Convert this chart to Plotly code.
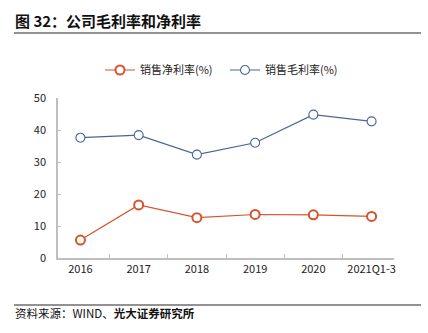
import plotly.graph_objects as go

categories = ["2016", "2017", "2018", "2019", "2020", "2021Q1-3"]
net_margin = [5.6, 16.6, 12.6, 13.6, 13.5, 13.0]
gross_margin = [37.6, 38.4, 32.3, 36.0, 44.8, 42.7]
y_ticks = [0, 10, 20, 30, 40, 50]

FONT = "Noto Sans CJK SC"
net_color = "#D5532F"
gross_color = "#4A6496"

# plot area geometry (px)
L, R, T, B = 58, 394, 98, 258
PW, PH = R - L, B - T

def px_x(x):
    return (x - L) / PW

def px_y(y):
    return (B - y) / PH

fig = go.Figure()
fig.add_trace(go.Scatter(
    x=categories, y=net_margin, name="销售净利率(%)", mode="lines+markers",
    line=dict(color=net_color, width=1.2),
    marker=dict(symbol="circle", size=9, color="white", line=dict(color=net_color, width=2)),
))
fig.add_trace(go.Scatter(
    x=categories, y=gross_margin, name="销售毛利率(%)", mode="lines+markers",
    line=dict(color=gross_color, width=1.2),
    marker=dict(symbol="circle", size=9, color="white", line=dict(color=gross_color, width=1.1)),
))

fig.update_layout(
    width=428, height=333,
    margin=dict(l=L, r=428 - R, t=T, b=333 - B, autoexpand=False),
    paper_bgcolor="white", plot_bgcolor="white",
    font=dict(family=FONT, size=11, color="#222"),
    showlegend=True,
    legend=dict(orientation="h", x=px_x(100), xanchor="left", y=px_y(70), yanchor="middle",
                font=dict(size=11, color="#222"), itemwidth=30, traceorder="normal",
                entrywidth=80, entrywidthmode="pixels",
                bgcolor="rgba(0,0,0,0)"),
    xaxis=dict(type="category", showline=True, linecolor="#BFBFBF", linewidth=1.5,
               ticks="inside", ticklen=4, tickcolor="#BFBFBF", tickson="boundaries",
               showgrid=False, tickfont=dict(size=11, color="#222"), fixedrange=True),
    yaxis=dict(range=[0, 50], tickvals=y_ticks, showline=True, linecolor="#BFBFBF",
               linewidth=1.5, ticks="inside", ticklen=3, tickcolor="#BFBFBF",
               showgrid=False, zeroline=False, tickfont=dict(size=11, color="#222"),
               ticklabelstandoff=8, fixedrange=True),
)

# title, rules and source
fig.add_annotation(text="<b>图 32：公司毛利率和净利率</b>", xref="paper", yref="paper",
                   x=px_x(13), y=px_y(20), xanchor="left", yanchor="middle",
                   showarrow=False, font=dict(size=15, color="#111", family=FONT))
fig.add_shape(type="line", xref="paper", yref="paper", x0=px_x(14), x1=px_x(421),
              y0=px_y(33), y1=px_y(33), line=dict(color="#6E6E6E", width=1.5))
fig.add_shape(type="line", xref="paper", yref="paper", x0=px_x(14), x1=px_x(421),
              y0=px_y(305), y1=px_y(305), line=dict(color="#6E6E6E", width=1.5))
fig.add_annotation(text="资料来源：WIND、<b>光大证券研究所</b>", xref="paper", yref="paper",
                   x=px_x(13), y=px_y(313), xanchor="left", yanchor="middle",
                   showarrow=False, font=dict(size=11.5, color="#111", family=FONT))

fig.write_html("out.html")
